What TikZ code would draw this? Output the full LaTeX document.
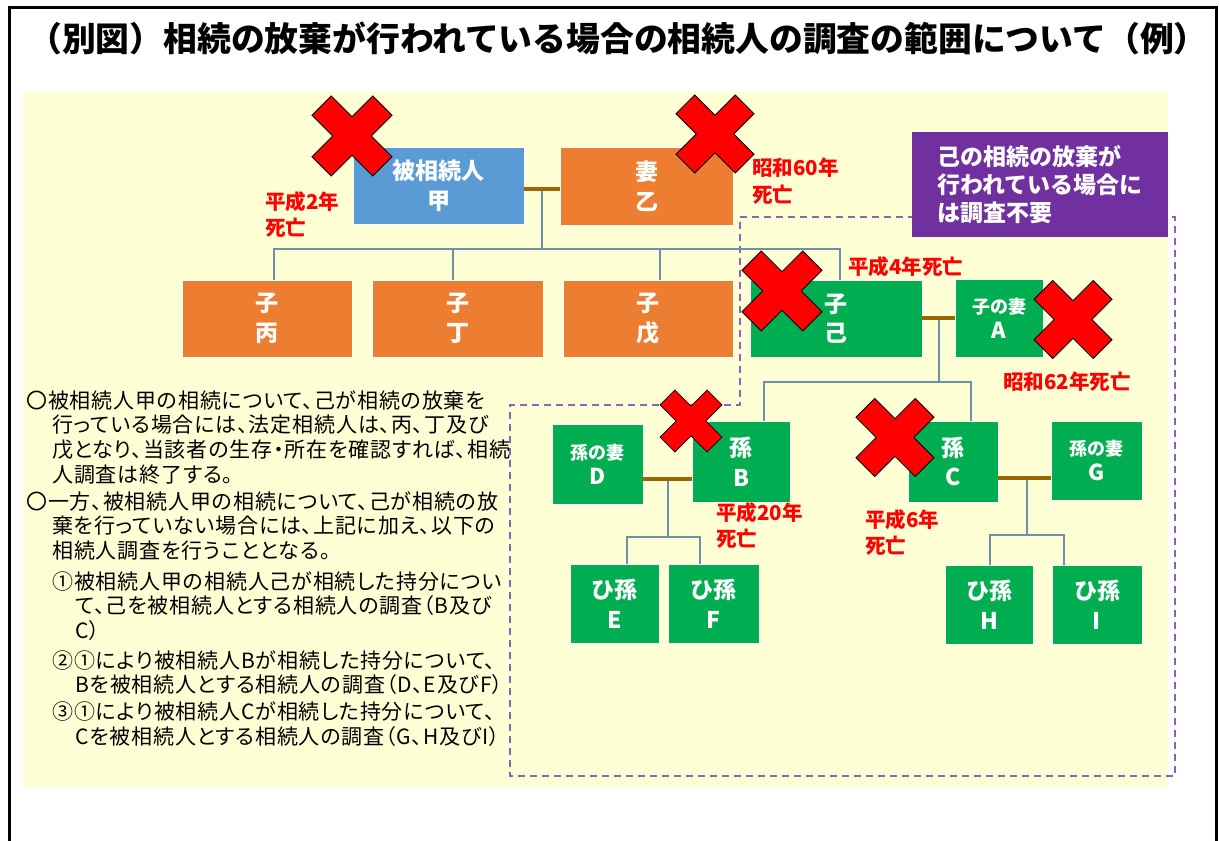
\documentclass[tikz,border=0pt]{standalone}
\usepackage{fontspec}
\newfontfamily\jp{Noto Sans CJK JP}
\newfontfamily\jpp{Noto Sans CJK JP}[RawFeature=+palt, LetterSpace=4]
\definecolor{cblue}{HTML}{5B9BD5}
\definecolor{corange}{HTML}{ED7D31}
\definecolor{cgreen}{HTML}{00AD50}
\definecolor{cpurple}{HTML}{7030A0}
\definecolor{cdash}{HTML}{8E62BC}
\definecolor{cyellow}{HTML}{FFFFD5}
\definecolor{ctree}{HTML}{7090A8}
\definecolor{cbrown}{HTML}{9C6500}
\newcommand{\biglet}{\fontsize{22}{24}\selectfont}
\begin{document}
\begin{tikzpicture}[x=1pt,y=-1pt,
  box/.style={rectangle, draw=white, line width=0.6pt, text=white, align=center, inner sep=0pt,
    font=\jp\bfseries\fontsize{23}{29.5}\selectfont},
  smallbox/.style={box, font=\jp\bfseries\fontsize{18}{25}\selectfont},
  tree/.style={draw=ctree, line width=1.2pt},
  marr/.style={draw=cbrown, line width=4pt},
  redlab/.style={text=red, font=\jp\bfseries\fontsize{20.5}{26.5}\selectfont, align=left, anchor=west, inner sep=0pt},
  bodytext/.style={text=black, font=\jpp\fontsize{21}{25}\selectfont, anchor=west, inner sep=0pt},
  dashline/.style={draw=cdash, line width=1.6pt, dash pattern=on 7pt off 5pt},
  xmark/.pic={\draw[fill=red, draw=black, line width=0.8pt, rotate=45]
    (17,53.7) -- (17,17) -- (53.7,17) -- (53.7,-17) -- (17,-17) -- (17,-53.7) --
    (-17,-53.7) -- (-17,-17) -- (-53.7,-17) -- (-53.7,17) -- (-17,17) -- (-17,53.7) -- cycle;}
]
\useasboundingbox (0,0) rectangle (1219,841);
\fill[white] (0,0) rectangle (1219,841);
\draw[line width=3pt] (9.5,841) -- (9.5,7.5) -- (1216.5,7.5) -- (1216.5,841);
\node[font=\jp\bfseries\fontsize{33.8}{36}\selectfont, inner sep=0pt] (title) at (618,38)
  {（別図）相続の放棄が行われている場合の相続人の調査の範囲について（例）};
\fill[cyellow] (23,92) rectangle (1168,787);
\draw[dashline] (740,217) -- (1175,217) -- (1175,776) -- (510,776) -- (510,405) -- (740,405) -- cycle;

% boxes
\node[box, fill=cblue, minimum width=171pt, minimum height=77pt] (jia) at (438.5,185.5) {被相続人\\甲};
\node[box, fill=corange, minimum width=173pt, minimum height=78pt] (otsu) at (646.5,186) {妻\\乙};
\node[box, fill=corange, minimum width=170pt, minimum height=77pt] (hei) at (267,318.5) {子\\丙};
\node[box, fill=corange, minimum width=171pt, minimum height=77pt] (tei) at (457.5,318.5) {子\\丁};
\node[box, fill=corange, minimum width=170pt, minimum height=77pt] (bo) at (648,318.5) {子\\戊};
\node[box, fill=cgreen, minimum width=172pt, minimum height=77pt] (ki) at (836,318.5) {子\\己};
\node[smallbox, fill=cgreen, minimum width=88pt, minimum height=78pt] (A) at (999,318) {子の妻\\{\biglet A}};
\node[box, fill=cgreen, minimum width=98pt, minimum height=81pt] (B) at (741,461.5) {孫\\B};
\node[smallbox, fill=cgreen, minimum width=91pt, minimum height=80pt] (D) at (597.5,464) {孫の妻\\{\biglet D}};
\node[box, fill=cgreen, minimum width=90pt, minimum height=81pt] (C) at (953,461.5) {孫\\C};
\node[smallbox, fill=cgreen, minimum width=91pt, minimum height=79pt] (G) at (1096.5,460.5) {孫の妻\\{\biglet G}};
\node[box, fill=cgreen, minimum width=89pt, minimum height=79pt] (E) at (614.5,603.5) {ひ孫\\E};
\node[box, fill=cgreen, minimum width=91pt, minimum height=79pt] (F) at (713.5,603.5) {ひ孫\\F};
\node[box, fill=cgreen, minimum width=88pt, minimum height=79pt] (H) at (989,604.5) {ひ孫\\H};
\node[box, fill=cgreen, minimum width=90pt, minimum height=79pt] (I) at (1097,604.5) {ひ孫\\I};

% connectors
\coordinate (mJ) at (542,189);
\coordinate (bJ) at (542,249);
\draw[tree] (mJ) -- (bJ);
\draw[tree] (bJ) -| ([xshift=7pt]hei.north);
\draw[tree] (bJ) -| ([xshift=-4.5pt]tei.north);
\draw[tree] (bJ) -| ([xshift=12pt]bo.north);
\draw[tree] (bJ) -| ([xshift=4pt]ki.north);
\draw[marr] (jia.east |- mJ) -- (otsu.west |- mJ);

\coordinate (mK) at (939,318);
\coordinate (bK) at (939,382);
\draw[tree] (mK) -- (bK);
\draw[tree] (bK) -| ([xshift=23pt]B.north);
\draw[tree] (bK) -| ([xshift=18pt]C.north);
\draw[marr] (ki.east |- mK) -- (A.west |- mK);

\coordinate (mB) at (668,479);
\coordinate (bB) at (668,537);
\draw[tree] (mB) -- (bB);
\draw[tree] (bB) -| ([xshift=12.5pt]E.north);
\draw[tree] (bB) -| ([xshift=-13.5pt]F.north);
\draw[marr] (D.east |- mB) -- (B.west |- mB);

\coordinate (mC) at (1027,478);
\coordinate (bC) at (1027,535);
\draw[tree] (mC) -- (bC);
\draw[tree] (bC) -| ([xshift=1pt]H.north);
\draw[tree] (bC) -| ([xshift=-33pt]I.north);
\draw[marr] (C.east |- mC) -- (G.west |- mC);

% purple note
\node[fill=cpurple, minimum width=256pt, minimum height=105pt, text=white, align=left, inner sep=0pt,
  font=\jp\bfseries\fontsize{23}{28}\selectfont] (note) at (1040,184.5)
  {己の相続の放棄が\\行われている場合に\\は調査不要};

% cross marks
\pic[scale=0.8] (x1) at (352,136) {xmark};
\pic[scale=0.78] (x2) at (715,134) {xmark};
\pic[scale=0.8] (x3) at (782,291) {xmark};
\pic[scale=0.78] (x4) at (1073,319.5) {xmark};
\pic[scale=0.62] (x5) at (691,421) {xmark};
\pic[scale=0.78] (x6) at (895,437.5) {xmark};

% red labels
\node[redlab] (d1) at (265,214.5) {平成2年\\死亡};
\node[redlab] (d2) at (752,181) {昭和60年\\死亡};
\node[redlab] (d3) at (848,267) {平成4年死亡};
\node[redlab] (d4) at (1003,382) {昭和62年死亡};
\node[redlab] (d5) at (716,525.5) {平成20年\\死亡};
\node[redlab] (d6) at (865,532.5) {平成6年\\死亡};

% body text
\node[bodytext] (t1) at (26,400) {〇被相続人甲の相続について、己が相続の放棄を};
\node[bodytext] (t2) at (52,425) {行っている場合には、法定相続人は、丙、丁及び};
\node[bodytext] (t3) at (52,450) {戊となり、当該者の生存・所在を確認すれば、相続};
\node[bodytext] (t4) at (52,475) {人調査は終了する。};
\node[bodytext] (t5) at (26,501) {〇一方、被相続人甲の相続について、己が相続の放};
\node[bodytext] (t6) at (52,526) {棄を行っていない場合には、上記に加え、以下の};
\node[bodytext] (t7) at (52,551) {相続人調査を行うこととなる。};
\node[bodytext] (t8) at (52,582) {①被相続人甲の相続人己が相続した持分につい};
\node[bodytext] (t9) at (75,606) {て、己を被相続人とする相続人の調査（B及び};
\node[bodytext] (t10) at (75,631) {C）};
\node[bodytext] (t11) at (52,661) {②①により被相続人Bが相続した持分について、};
\node[bodytext] (t12) at (75,685) {Bを被相続人とする相続人の調査（D、E及びF）};
\node[bodytext] (t13) at (52,712) {③①により被相続人Cが相続した持分について、};
\node[bodytext] (t14) at (75,737) {Cを被相続人とする相続人の調査（G、H及びI）};
\end{tikzpicture}
\end{document}
